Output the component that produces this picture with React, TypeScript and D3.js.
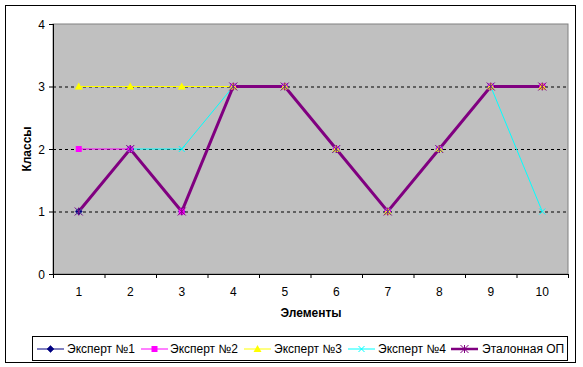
import React from "react";
import * as d3 from "d3";

const categories = ["1", "2", "3", "4", "5", "6", "7", "8", "9", "10"];
const expert1 = [1, 2, 1, 3, 3, 2, 1, 2, 3, 3];
const expert2 = [2, 2, 1, 3, 3, 2, 1, 2, 3, 3];
const expert3 = [3, 3, 3, 3, 3, 2, 1, 2, 3, 3];
const expert4 = [1, 2, 2, 3, 3, 2, 1, 2, 3, 1];
const etalon = [1, 2, 1, 3, 3, 2, 1, 2, 3, 3];
const yTicks = [0, 1, 2, 3, 4];

const seriesNames = ["Эксперт №1", "Эксперт №2", "Эксперт №3", "Эксперт №4", "Эталонная ОП"];
const seriesData = [expert1, expert2, expert3, expert4, etalon];
const seriesColors = ["#000080", "#FF00FF", "#FFFF00", "#00FFFF", "#800080"];
const seriesWidths = [1, 1, 1, 1, 3];
const markerTypes = ["diamond", "square", "triangle", "x", "star"];

const FONT = "Arial, 'Liberation Sans', sans-serif";

function Marker({ type, x, y, color }: { type: string; x: number; y: number; color: string }) {
  if (type === "diamond") {
    return <path d={`M${x},${y - 3.5}L${x + 3.5},${y}L${x},${y + 3.5}L${x - 3.5},${y}Z`} fill={color} stroke={color} strokeWidth={0.5} />;
  }
  if (type === "square") {
    return <rect x={x - 3} y={y - 3} width={6} height={6} fill={color} />;
  }
  if (type === "triangle") {
    return <path d={`M${x},${y - 4}L${x + 4},${y + 3}L${x - 4},${y + 3}Z`} fill={color} />;
  }
  if (type === "x") {
    return <path d={`M${x - 3},${y - 3}L${x + 3},${y + 3}M${x - 3},${y + 3}L${x + 3},${y - 3}`} stroke={color} strokeWidth={1} fill="none" />;
  }
  return (
    <path
      d={`M${x - 4},${y - 4}L${x + 4},${y + 4}M${x - 4},${y + 4}L${x + 4},${y - 4}M${x},${y - 4}L${x},${y + 4}`}
      stroke={color}
      strokeWidth={1}
      fill="none"
    />
  );
}

export default function App() {
  const W = 583, H = 367;
  const left = 53, right = 568, top = 24, bottom = 274;
  const x = d3.scaleBand().domain(categories).range([left, right]);
  const y = d3.scaleLinear().domain([0, 4]).range([bottom, top]);
  const cx = (c: string) => (x(c) as number) + x.bandwidth() / 2;
  const line = d3
    .line<number>()
    .x((_, i) => cx(categories[i]))
    .y((d) => y(d));

  const legendItems = [
    { lx: 37, tx: 67 },
    { lx: 141, tx: 170 },
    { lx: 244, tx: 274 },
    { lx: 348, tx: 378 },
    { lx: 451, tx: 482 },
  ];

  const boundaries = d3.range(categories.length + 1).map((i) => left + i * x.bandwidth());

  return (
    <svg width={W} height={H} style={{ position: "absolute", left: 0, top: 0 }} fontFamily={FONT}>
      <rect x={0} y={0} width={W} height={H} fill="#fff" />
      <rect x={5.5} y={5.5} width={570} height={357} fill="#fff" stroke="#000" strokeWidth={1} />
      <rect x={left} y={top} width={right - left} height={bottom - top} fill="#C0C0C0" stroke="#808080" strokeWidth={1} />
      {yTicks.filter((t) => t > 0 && t < 4).map((t) => (
        <line key={t} x1={left} x2={right} y1={y(t) + 0.5} y2={y(t) + 0.5} stroke="#000" strokeDasharray="3,3" strokeWidth={1} />
      ))}
      {/* axes */}
      <line x1={left + 0.5} x2={left + 0.5} y1={top} y2={bottom} stroke="#000" />
      <line x1={left} x2={right} y1={bottom + 0.5} y2={bottom + 0.5} stroke="#000" />
      {yTicks.map((t) => (
        <g key={t}>
          <line x1={left - 4} x2={left} y1={y(t) + 0.5} y2={y(t) + 0.5} stroke="#000" />
          <text x={45} y={y(t) + 4.5} textAnchor="end" fontSize={12}>{t}</text>
        </g>
      ))}
      {boundaries.map((b, i) => (
        <line key={i} x1={b + 0.5} x2={b + 0.5} y1={bottom} y2={bottom + 4} stroke="#000" />
      ))}
      {categories.map((c) => (
        <text key={c} x={cx(c)} y={296} textAnchor="middle" fontSize={12}>{c}</text>
      ))}
      <text x={311} y={317} textAnchor="middle" fontSize={12} fontWeight="bold">Элементы</text>
      <text transform={`translate(31,${(top + bottom) / 2}) rotate(-90)`} textAnchor="middle" fontSize={12} fontWeight="bold">Классы</text>
      {/* series */}
      {seriesData.map((data, si) => (
        <g key={si}>
          <path d={line(data) || ""} fill="none" stroke={seriesColors[si]} strokeWidth={seriesWidths[si]} />
        </g>
      ))}
      {seriesData.map((data, si) => (
        <g key={"m" + si}>
          {data.map((v, i) => (
            <Marker key={i} type={markerTypes[si]} x={cx(categories[i])} y={y(v)} color={seriesColors[si]} />
          ))}
        </g>
      ))}
      {/* legend */}
      <rect x={32.5} y={336.5} width={535} height={24} fill="#fff" stroke="#000" strokeWidth={1} />
      {legendItems.map((it, i) => (
        <g key={i}>
          <line x1={it.lx} x2={it.lx + 27} y1={349} y2={349} stroke={seriesColors[i]} strokeWidth={seriesWidths[i] === 3 ? 2.5 : 1} />
          <Marker type={markerTypes[i]} x={it.lx + 13.5} y={349} color={seriesColors[i]} />
          <text x={it.tx} y={353} fontSize={12}>{seriesNames[i]}</text>
        </g>
      ))}
    </svg>
  );
}
